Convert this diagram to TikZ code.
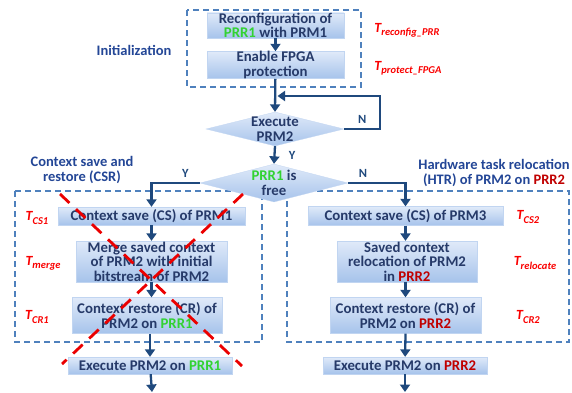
\documentclass[tikz,border=0pt]{standalone}
\usepackage{fontspec}
\setmainfont{Carlito}
\usepackage{xcolor}
\usetikzlibrary{arrows.meta,calc,positioning,shapes.geometric}
\definecolor{boxtext}{RGB}{38,58,105}
\definecolor{headblue}{RGB}{35,70,150}
\definecolor{flowblue}{RGB}{31,73,125}
\definecolor{dashblue}{RGB}{79,129,189}
\definecolor{boxtop}{RGB}{224,234,249}
\definecolor{boxbot}{RGB}{166,195,235}
\definecolor{prrgreen}{RGB}{50,210,50}
\definecolor{prrred}{RGB}{192,0,0}
\definecolor{tred}{RGB}{250,0,0}
\newcommand{\prrone}{\textcolor{prrgreen}{PRR1}}
\newcommand{\prrtwo}{\textcolor{prrred}{PRR2}}
\newcommand{\tlab}[1]{T\raisebox{-0.45ex}{\fontsize{10.5}{10.5}\selectfont #1}}

\begin{document}
\begin{tikzpicture}[x=1pt,y=-1pt,line width=0.55pt,
    box/.style={rectangle,top color=boxtop,bottom color=boxbot,draw=boxbot!70!white,
      line width=0.3pt,text=boxtext,font=\bfseries\fontsize{14.8}{14.5}\selectfont,
      align=center,inner sep=0pt},
    decision/.style={diamond,top color=boxtop,bottom color=boxbot,draw=boxbot!70!white,
      line width=0.3pt,inner sep=0pt},
    dtext/.style={text=boxtext,font=\bfseries\fontsize{14.8}{14.5}\selectfont,align=center},
    flow/.style={draw=flowblue,line width=2.3pt,-{Triangle[width=10pt,length=7.5pt]}},
    group/.style={draw=dashblue,line width=1.2pt,dash pattern=on 6pt off 4pt},
    head/.style={text=headblue,font=\bfseries\fontsize{14.5}{14.5}\selectfont,align=center},
    tlabel/.style={text=tred,font=\bfseries\itshape\fontsize{14}{14}\selectfont},
    yn/.style={text=flowblue,font=\bfseries\fontsize{12.5}{14}\selectfont},
    cross/.style={draw=red!92!black,line width=2.8pt,dash pattern=on 13pt off 9pt}]
  \useasboundingbox (0,0) rectangle (572,392);

  \draw[group] (187,10) rectangle (361,87);
  \draw[group] (15,191) rectangle (262,342);
  \draw[group] (287,191) rectangle (569,342);

  \node[box,minimum width=137,minimum height=25] (recfg) at (275.5,25.5) {Reconfiguration of\\\prrone{} with PRM1};
  \node[box,minimum width=137,minimum height=26] (protect) at (275.5,65) {Enable FPGA\\protection};
  \node[decision,minimum width=138,minimum height=34,
    label={[dtext]center:Execute\\PRM2}] (exec) at (275,129) {};
  \node[decision,minimum width=148,minimum height=38,
    label={[dtext]center:\prrone{} is\\free}] (free) at (274,183) {};

  \node[box,minimum width=187,minimum height=18] (cs1) at (151.5,216) {Context save (CS) of PRM1};
  \node[box,minimum width=151,minimum height=41] (merge) at (151.5,261.5) {Merge saved context\\of PRM2 with initial\\bitstream of PRM2};
  \node[box,minimum width=150,minimum height=36] (cr1) at (147,315.5) {Context restore (CR) of\\PRM2 on \prrone};
  \node[box,minimum width=164,minimum height=17] (run1) at (150,365.5) {Execute PRM2 on \prrone};

  \node[box,minimum width=195,minimum height=19] (cs2) at (405.5,216) {Context save (CS) of PRM3};
  \node[box,minimum width=140,minimum height=41] (reloc) at (407,261.5) {Saved context\\relocation of PRM2\\in \prrtwo};
  \node[box,minimum width=151,minimum height=36] (cr2) at (405.5,315.5) {Context restore (CR) of\\PRM2 on \prrtwo};
  \node[box,minimum width=164,minimum height=17] (run2) at (405,365.5) {Execute PRM2 on \prrtwo};

  \node[head] (init) at (134,50) {Initialization};
  \node[head] (csr) at (82,170) {Context save and\\restore (CSR)};
  \node[head] (htr) at (494,173) {Hardware task relocation\\(HTR) of PRM2 on \prrtwo};

  \node[tlabel] (treconf) at (407,30) {\tlab{reconfig\_PRR}};
  \node[tlabel] (tprot) at (408,68) {\tlab{protect\_FPGA}};
  \node[tlabel] (tcs1) at (37,218) {\tlab{CS1}};
  \node[tlabel] (tmerge) at (43,263) {\tlab{merge}};
  \node[tlabel] (tcr1) at (37,317) {\tlab{CR1}};
  \node[tlabel] (tcs2) at (528,217) {\tlab{CS2}};
  \node[tlabel] (treloc) at (535,263) {\tlab{relocate}};
  \node[tlabel] (tcr2) at (528,317) {\tlab{CR2}};

  \coordinate (loopend) at (277.5,96);
  \coordinate (out1) at (152,392);
  \coordinate (out2) at (405,392);

  \draw[flow] (recfg) -- (protect);
  \draw[flow] (protect) -- (exec.north);
  \draw[flow] (exec.east) -- node[yn,above=1pt]{N} ++(36,0) |- (loopend);
  \draw[flow] (exec.south) -- node[yn,right=10pt]{Y} (free.north);
  \draw[flow] (free.west) -| node[yn,pos=0.15,above=1pt]{Y} (cs1.north);
  \draw[flow] (free.east) -| node[yn,pos=0.13,above=1pt]{N} (cs2.north);
  \draw[flow] (cs1) -- (merge);
  \draw[flow] (merge) -- (cr1.north -| merge.south);
  \draw[flow] (cr1.south -| run1.north) -- (run1);
  \draw[flow] (run1) -- (out1);
  \draw[flow] (cs2) -- (cs2 |- reloc.north);
  \draw[flow] (reloc.south -| cs2.south) -- (cs2 |- cr2.north);
  \draw[flow] (cs2 |- cr2.south) -- (run2);
  \draw[flow] (run2) -- (out2);

  \draw[cross] (60,194) -- (242,366);
  \draw[cross] (243,194) -- (62,364);
\end{tikzpicture}
\end{document}
